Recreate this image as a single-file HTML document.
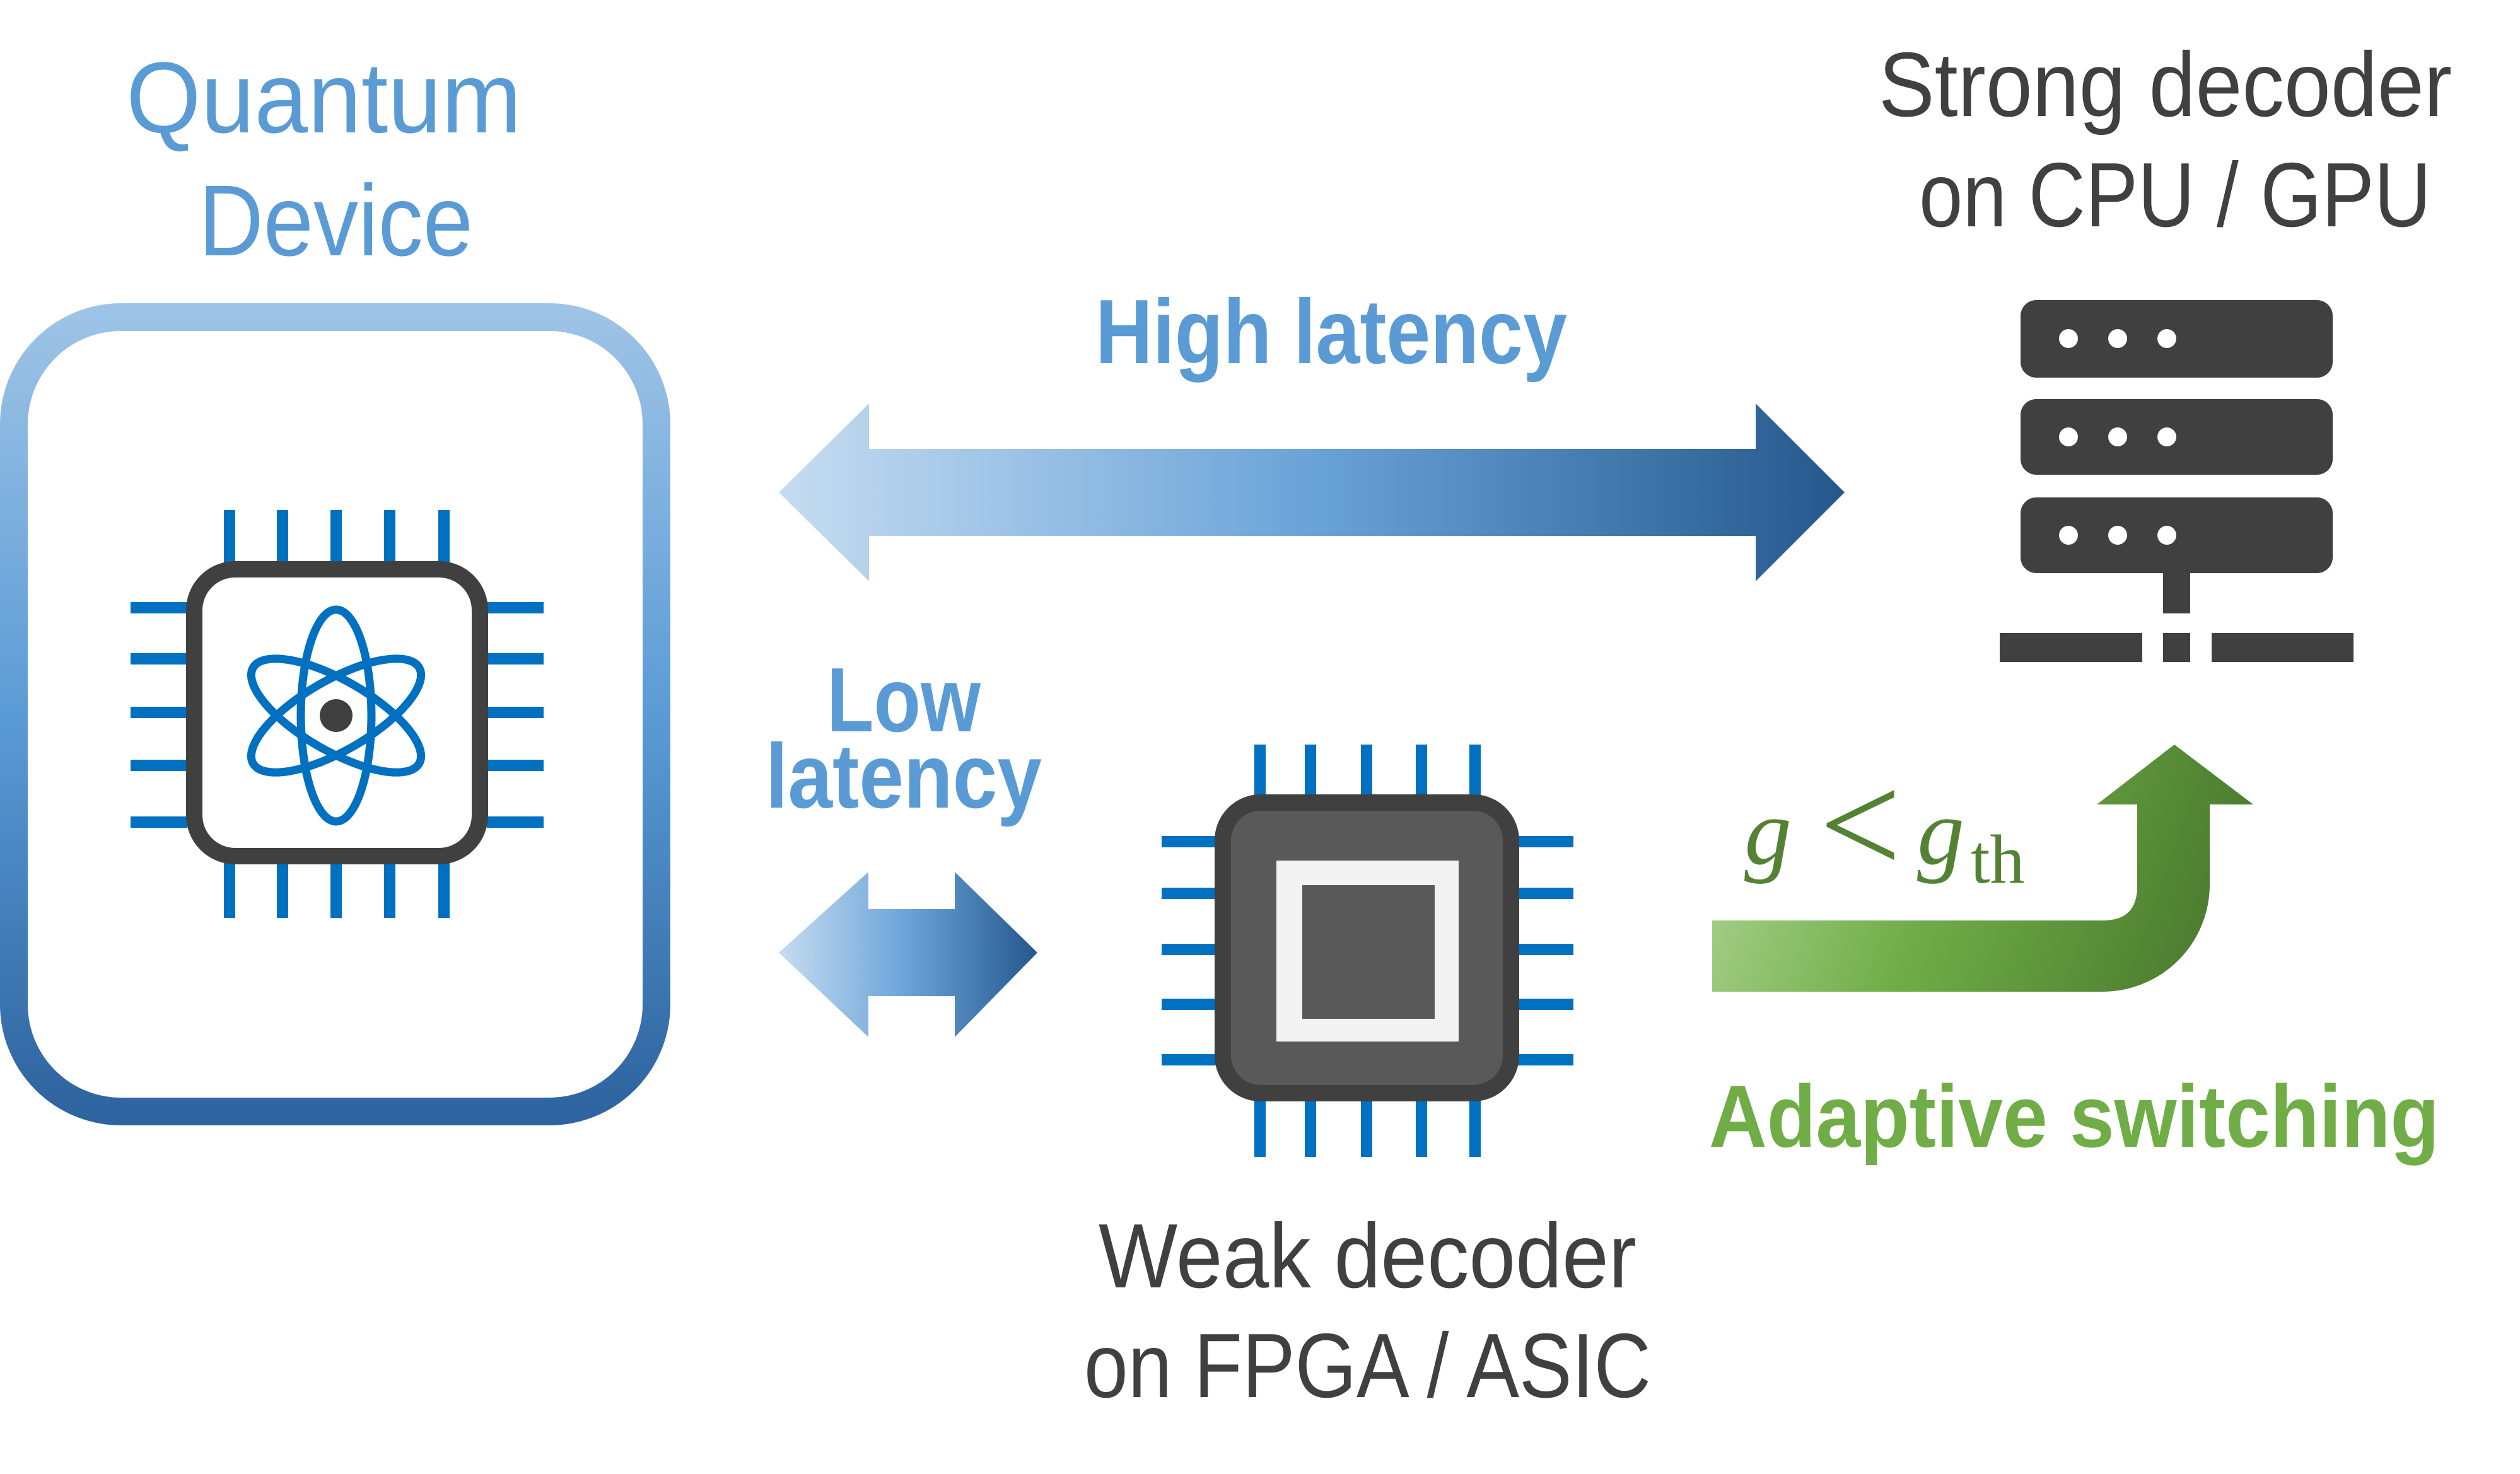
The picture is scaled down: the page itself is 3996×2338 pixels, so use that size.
<!DOCTYPE html>
<html><head><meta charset="utf-8"><style>html,body{margin:0;padding:0;background:#fff}svg{display:block}</style></head>
<body>
<svg width="3996" height="2338" viewBox="0 0 3996 2338" xmlns="http://www.w3.org/2000/svg">
<defs>
<linearGradient id="box" x1="0" y1="0" x2="0" y2="1"><stop offset="0" stop-color="#9dc3e6"/><stop offset="0.5" stop-color="#5b9bd5"/><stop offset="1" stop-color="#2e64a0"/></linearGradient>
<linearGradient id="arr" x1="0" y1="0" x2="1" y2="0"><stop offset="0" stop-color="#c5dcf0"/><stop offset="0.5" stop-color="#6aa3d8"/><stop offset="1" stop-color="#25588c"/></linearGradient>
<linearGradient id="grn" x1="2715" y1="1300" x2="3560" y2="1600" gradientUnits="userSpaceOnUse"><stop offset="0" stop-color="#a9d18e"/><stop offset="0.4" stop-color="#70ad47"/><stop offset="1" stop-color="#44722a"/></linearGradient>
</defs>
<g font-family="'Liberation Sans',sans-serif">
<text x="200" y="210" font-size="160" fill="#5b9bd5" textLength="627" lengthAdjust="spacingAndGlyphs">Quantum</text>
<text x="315" y="405" font-size="160" fill="#5b9bd5" textLength="435" lengthAdjust="spacingAndGlyphs">Device</text>
<text x="1737" y="576" font-size="145" font-weight="bold" fill="#5b9bd5" textLength="748" lengthAdjust="spacingAndGlyphs">High latency</text>
<text x="1311" y="1160" font-size="145" font-weight="bold" fill="#5b9bd5" textLength="244" lengthAdjust="spacingAndGlyphs">Low</text>
<text x="1214" y="1281" font-size="145" font-weight="bold" fill="#5b9bd5" textLength="438" lengthAdjust="spacingAndGlyphs">latency</text>
<text x="2979" y="184" font-size="145" fill="#404040" textLength="909" lengthAdjust="spacingAndGlyphs">Strong decoder</text>
<text x="3043" y="359" font-size="145" fill="#404040" textLength="812" lengthAdjust="spacingAndGlyphs">on CPU / GPU</text>
<text x="1742" y="2042" font-size="145" fill="#404040" textLength="853" lengthAdjust="spacingAndGlyphs">Weak decoder</text>
<text x="1719" y="2216" font-size="145" fill="#404040" textLength="899" lengthAdjust="spacingAndGlyphs">on FPGA / ASIC</text>
<text x="2710" y="1819" font-size="140" font-weight="bold" fill="#70ad47" textLength="1158" lengthAdjust="spacingAndGlyphs">Adaptive switching</text>
</g>
<g font-family="'Liberation Serif',serif" fill="#548235">
<text x="2766" y="1370" font-size="150" font-style="italic">g</text>
<text x="2885" y="1385" font-size="230">&lt;</text>
<text x="3040" y="1370" font-size="150" font-style="italic">g</text>
<text x="3125" y="1400" font-size="110">th</text>
</g>
<rect x="22" y="503" width="1019" height="1260" rx="170" fill="#fff" stroke="url(#box)" stroke-width="44"/>
<g fill="#0070c0">
<rect x="355" y="809" width="18" height="85"/><rect x="439" y="809" width="18" height="85"/><rect x="524" y="809" width="18" height="85"/><rect x="609" y="809" width="18" height="85"/><rect x="695" y="809" width="18" height="85"/>
<rect x="355" y="1368" width="18" height="88"/><rect x="439" y="1368" width="18" height="88"/><rect x="524" y="1368" width="18" height="88"/><rect x="609" y="1368" width="18" height="88"/><rect x="695" y="1368" width="18" height="88"/>
<rect x="207" y="955" width="90" height="18"/><rect x="207" y="1036" width="90" height="18"/><rect x="207" y="1121" width="90" height="18"/><rect x="207" y="1205" width="90" height="18"/><rect x="207" y="1295" width="90" height="18"/>
<rect x="772" y="955" width="90" height="18"/><rect x="772" y="1036" width="90" height="18"/><rect x="772" y="1121" width="90" height="18"/><rect x="772" y="1205" width="90" height="18"/><rect x="772" y="1295" width="90" height="18"/>
</g>
<rect x="308" y="903" width="453" height="455" rx="65" fill="#fff" stroke="#404040" stroke-width="26"/>
<g fill="none" stroke="#0070c0" stroke-width="13" transform="translate(533,1135)">
<ellipse rx="152" ry="56" transform="rotate(30)"/>
<ellipse rx="152" ry="56" transform="rotate(-30)"/>
<ellipse rx="56" ry="168"/>
</g>
<circle cx="533" cy="1135" r="26" fill="#404040"/>
<polygon points="1235,781 1378,640 1378,712 2784,712 2784,640 2925,781 2784,922 2784,850 1378,850 1378,922" fill="url(#arr)"/>
<polygon points="1235,1511 1377,1383 1377,1442 1514,1442 1514,1383 1645,1511 1514,1645 1514,1580 1377,1580 1377,1645" fill="url(#arr)"/>
<g fill="#0070c0">
<rect x="1989" y="1181" width="18" height="82"/><rect x="2069" y="1181" width="18" height="82"/><rect x="2158" y="1181" width="18" height="82"/><rect x="2245" y="1181" width="18" height="82"/><rect x="2330" y="1181" width="18" height="82"/>
<rect x="1989" y="1745" width="18" height="90"/><rect x="2069" y="1745" width="18" height="90"/><rect x="2158" y="1745" width="18" height="90"/><rect x="2245" y="1745" width="18" height="90"/><rect x="2330" y="1745" width="18" height="90"/>
<rect x="1842" y="1326" width="88" height="18"/><rect x="1842" y="1408" width="88" height="18"/><rect x="1842" y="1497" width="88" height="18"/><rect x="1842" y="1584" width="88" height="18"/><rect x="1842" y="1672" width="88" height="18"/>
<rect x="2405" y="1326" width="90" height="18"/><rect x="2405" y="1408" width="90" height="18"/><rect x="2405" y="1497" width="90" height="18"/><rect x="2405" y="1584" width="90" height="18"/><rect x="2405" y="1672" width="90" height="18"/>
</g>
<rect x="1939" y="1273" width="457" height="461" rx="60" fill="#595959" stroke="#404040" stroke-width="26"/>
<rect x="2024" y="1365" width="289" height="287" fill="#f2f2f2"/>
<rect x="2065" y="1404" width="210" height="212" fill="#595959"/>
<g fill="#404040">
<rect x="3204" y="476" width="495" height="123" rx="25"/>
<rect x="3204" y="633" width="495" height="120" rx="25"/>
<rect x="3204" y="789" width="495" height="120" rx="25"/>
<rect x="3430" y="905" width="43" height="68"/>
<rect x="3171" y="1004" width="226" height="46"/>
<rect x="3430" y="1004" width="43" height="46"/>
<rect x="3507" y="1004" width="225" height="46"/>
</g>
<g fill="#fff">
<circle cx="3280" cy="537" r="15"/><circle cx="3358" cy="537" r="15"/><circle cx="3436" cy="537" r="15"/>
<circle cx="3280" cy="693" r="15"/><circle cx="3358" cy="693" r="15"/><circle cx="3436" cy="693" r="15"/>
<circle cx="3280" cy="849" r="15"/><circle cx="3358" cy="849" r="15"/><circle cx="3436" cy="849" r="15"/>
</g>
<path d="M2715,1460 L3335,1460 Q3389,1460 3389,1406 L3389,1276 L3325,1276 L3448,1181 L3573,1276 L3504,1276 L3504,1403 A170,170 0 0 1 3334,1573 L2715,1573 Z" fill="url(#grn)"/>
</svg>
</body></html>
